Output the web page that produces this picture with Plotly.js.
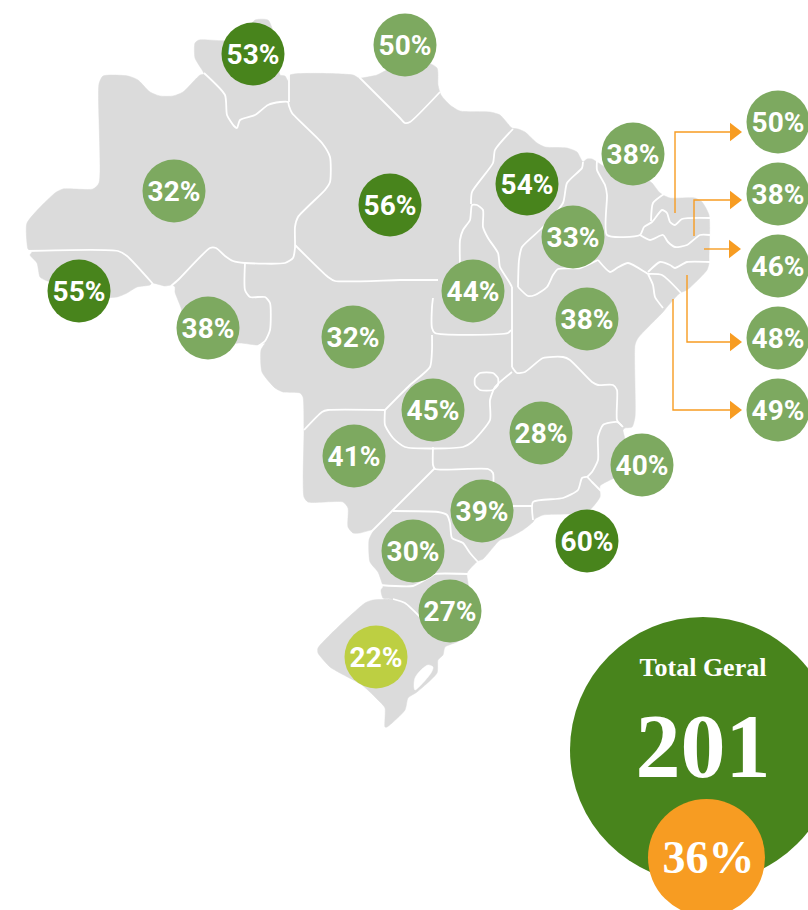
<!DOCTYPE html>
<html><head><meta charset="utf-8">
<script src="https://cdn.plot.ly/plotly-3.0.1.min.js"></script>
<style>html,body{margin:0;padding:0;background:#fff;overflow:hidden}</style></head>
<body><div id="chart" style="width:808px;height:910px"></div>
<script>
// Map geometry, in the map's own coordinate system
const landOutline=[[99,84],[103,76],[128,76],[138,80],[150,92],[160,96],[173,96],[183,92],[200,75],[204,74],[195,58],[195,43],[199,40],[240,40],[255,20],[268,20],[272,28],[278,60],[280,75],[285,76],[288,81],[290,75],[353,75],[359,78],[377,75],[387,70],[420,60],[437,68],[438,85],[441,95],[450,105],[460,111],[490,112],[500,115],[512,128],[518,129],[525,132],[537,143],[545,147],[567,148],[577,152],[583,162],[587,159],[592,159],[597,162],[610,170],[640,175],[652,183],[659,192],[663,195],[670,198],[695,198],[702,202],[709,215],[709,257],[709,263],[707,270],[687,290],[680,293],[667,307],[663,312],[638,338],[635,345],[635,417],[632,427],[625,428],[623,430],[625,440],[620,475],[610,480],[600,486],[600,497],[587,512],[543,515],[535,519],[533,522],[523,530],[510,537],[500,540],[483,559],[478,561],[467,573],[468,583],[470,600],[460,640],[445,647],[443,655],[438,660],[437,673],[417,692],[408,698],[405,710],[387,727],[385,727],[385,708],[380,702],[362,685],[340,673],[330,667],[318,653],[318,648],[365,603],[373,600],[393,599],[383,598],[381,590],[383,587],[382,583],[378,572],[370,562],[369,540],[373,530],[360,533],[353,533],[348,527],[348,508],[343,502],[308,502],[304,497],[304,430],[303,397],[300,393],[283,392],[275,388],[262,372],[261,350],[265,343],[258,345],[240,343],[220,345],[190,330],[180,305],[175,292],[175,287],[172,285],[165,286],[152,283],[150,285],[137,287],[127,293],[117,297],[95,297],[45,280],[40,277],[37,263],[30,255],[32,252],[28,249],[27,243],[27,223],[55,193],[63,189],[93,189],[99,183],[99,84]];
const stateBorders=[
 [[26,251],[118,251],[127,256],[153,284]],
 [[171,286],[178,280],[210,248],[216,248],[225,256],[233,261],[245,263],[285,263],[293,258],[295,248],[295,227],[298,217],[325,190],[330,182],[330,157],[322,143],[292,113],[289,106],[288,102],[280,102],[268,105],[255,115],[240,120],[237,128],[234,126],[227,115],[225,95],[204,73]],
 [[289,73],[289,102]],
 [[245,263],[245,290],[250,297],[265,297],[270,303],[270,330],[265,341],[258,346]],
 [[295,245],[328,277],[335,281],[400,280],[438,280]],
 [[359,77],[400,118],[405,123],[410,122],[440,92]],
 [[460,265],[460,240],[463,230],[470,220],[472,205],[477,205],[483,210],[483,227],[488,238],[498,253],[500,267],[508,280],[512,287]],
 [[513,129],[495,150],[493,163],[472,192],[471,204]],
 [[433,298],[432,307],[432,328],[435,333],[508,333],[511,330]],
 [[583,162],[582,168],[567,183],[563,203],[542,228],[522,247],[519,260],[518,287]],
 [[512,287],[512,367]],
 [[518,287],[528,296],[535,295],[547,287],[553,275],[558,269],[580,268],[598,260]],
 [[597,160],[597,170],[605,185],[607,195],[607,235],[640,235],[644,227],[652,222],[662,210],[667,213],[670,222],[675,225],[682,219],[710,218]],
 [[664,194],[653,203],[651,221]],
 [[640,235],[650,240],[663,235],[668,242],[675,247],[687,245],[700,235],[710,235]],
 [[598,260],[610,272],[617,268],[628,263],[645,272],[648,274]],
 [[648,272],[660,262],[670,265],[675,268],[687,262],[710,262]],
 [[648,274],[662,275],[681,293]],
 [[648,274],[653,285],[655,297],[663,308]],
 [[512,367],[517,373],[525,372],[543,358],[563,357],[570,360],[592,382],[598,385],[613,385],[617,390],[617,420],[622,426]],
 [[512,372],[495,387],[490,400],[490,420],[472,442],[463,447],[405,447],[393,438],[385,425],[385,410]],
 [[385,410],[410,385],[430,367],[432,350],[432,335]],
 [[304,430],[322,412],[328,410],[385,410]],
 [[433,447],[433,465],[435,469],[488,469],[493,473],[493,490]],
 [[435,468],[393,510],[370,533]],
 [[490,506],[513,506],[532,506]],
 [[533,520],[533,502],[563,498],[578,490],[582,478],[587,477],[592,482],[601,491]],
 [[587,477],[592,472],[598,460],[598,437],[603,425],[617,422],[623,427]],
 [[393,511],[438,512],[447,515],[450,523],[452,538],[463,543],[470,553],[478,562]],
 [[380,585],[413,586],[430,577],[435,574],[468,574]],
 [[393,599],[405,603],[421,618]]
];
const fedDistrict=[[480,373],[493,373],[498,378],[498,385],[493,390],[480,390],[475,385],[475,378],[480,373]];
const lagoon=[[415,690],[431,673],[433,667],[428,665],[420,671],[415,678],[414,686],[415,690]];
const arrowLines=[
 [[675,213],[675,132],[735,132]],
 [[694,236],[694,200],[735,200]],
 [[704,249],[735,249]],
 [[687,275],[687,342],[735,342]],
 [[673,299],[673,410],[735,410]]
];
// Percentages per state and where each bubble sits on the map
const stateValues=[53,50,32,55,38,32,56,38,54,33,44,38,45,28,41,39,40,60,30,27,22,50,38,46,48,49];
const stateMapX=[253,405,174,79,208,353,390,633,527,573,473,587,433,541,354,482,642,587,413,450,376,778,778,778,778,778];
const stateMapY=[54,45,191,291,328,337,205,154,184,237,291,319,410,433,456,511,465,541,551,611,657,122,194,266,338,410];
const arrowTipX=[734,734,733,734,734];
const arrowTipY=[132,200,249,342,410];
const totalLabel="Total Geral", totalValue="201", totalShare="36%";

const GRAY="#dbdbdb",DARK="#48841c",MID="#7da960",LIME="#bdcf42",ORANGE="#f79c22";
const col=p=>p.map(a=>a[0]), row=p=>p.map(a=>a[1]);
const traces=[];
traces.push({x:col(landOutline),y:row(landOutline),mode:"lines",fill:"toself",fillcolor:GRAY,line:{color:GRAY,width:0.5,shape:"spline",smoothing:0.6}});
traces.push({x:col(lagoon),y:row(lagoon),mode:"lines",fill:"toself",fillcolor:"#fff",line:{color:"#fff",width:0.5,shape:"spline",smoothing:0.8}});
stateBorders.concat([fedDistrict]).forEach(b=>traces.push({x:col(b),y:row(b),mode:"lines",line:{color:"#fff",width:1.8,shape:"spline",smoothing:0.6}}));
arrowLines.forEach(a=>traces.push({x:col(a),y:row(a),mode:"lines",line:{color:ORANGE,width:1.4}}));
traces.push({x:arrowTipX,y:arrowTipY,mode:"markers",marker:{symbol:"triangle-right",size:16,color:ORANGE,line:{width:0}}});
traces.push({x:stateMapX,y:stateMapY,mode:"markers",marker:{size:63,line:{width:0},color:stateValues.map(v=>v>=53?DARK:v<25?LIME:MID)}});
traces.push({x:stateMapX,y:stateMapY.map(y=>y+3),mode:"text",text:stateValues.map(v=>v+"%"),textposition:"middle center",cliponaxis:false,
  textfont:{family:"Roboto",size:28,color:"#fff",weight:700}});
traces.push({x:[703],y:[750],mode:"markers",marker:{size:266,color:DARK,line:{width:0}}});
traces.push({x:[703,703],y:[669,754],mode:"text",text:[totalLabel,totalValue],textposition:"middle center",
  textfont:{family:"Liberation Serif",size:[26,90],color:"#fff",weight:700}});
traces.push({x:[706.5],y:[857.5],mode:"markers",marker:{size:117,color:ORANGE,line:{width:0}}});
traces.push({x:[708.5],y:[861],mode:"text",text:[totalShare],textposition:"middle center",
  textfont:{family:"Liberation Serif",size:46,color:"#fff",weight:700}});
Plotly.newPlot("chart",traces,{width:808,height:910,margin:{l:0,r:0,t:0,b:0},showlegend:false,
  paper_bgcolor:"#fff",plot_bgcolor:"#fff",
  xaxis:{visible:false,fixedrange:true,range:[0,808]},yaxis:{visible:false,fixedrange:true,range:[910,0]}},{displayModeBar:false,staticPlot:true});
</script></body></html>
